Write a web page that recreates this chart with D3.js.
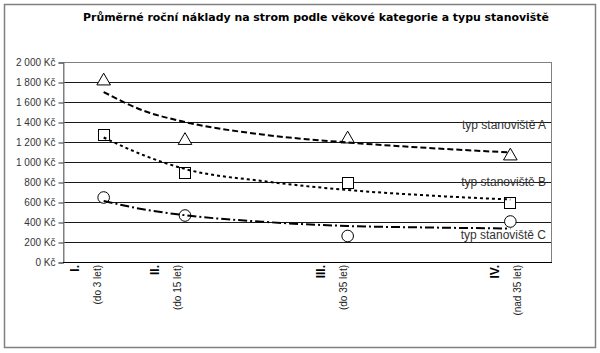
<!DOCTYPE html>
<html lang="cs">
<head>
<meta charset="UTF-8">
<title>Průměrné roční náklady</title>
<script src="https://d3js.org/d3.v7.min.js"></script>
<style>
  body { margin: 0; background: #fff; }
  svg { display: block; }
</style>
</head>
<body>
<svg></svg>
<script>
// category x positions (age groups) and their labels
const catX = [1, 2, 4, 6];
const catRoman = ["I.", "II.", "III.", "IV."];
const catAge = ["(do 3 let)", "(do 15 let)", "(do 35 let)", "(nad 35 let)"];

// measured values (Kč per tree)
const valuesA = [1820, 1225, 1240, 1070];
const valuesB = [1270, 890, 790, 590];
const valuesC = [645, 465, 260, 405];

// trendlines
const trendX = [1, 1.5, 2, 3, 4, 5, 6];
const trendA = [1700, 1510, 1400, 1270, 1195, 1140, 1095];
const trendB = [1245, 1065, 930, 805, 720, 665, 625];
const trendC = [610, 525, 468, 400, 360, 345, 335];

const yTicks = [0, 200, 400, 600, 800, 1000, 1200, 1400, 1600, 1800, 2000];
const seriesNames = ["typ stanoviště A", "typ stanoviště B", "typ stanoviště C"];
const title = "Průměrné roční náklady na strom podle věkové kategorie a typu stanoviště";

const width = 600, height = 353;
const plot = { left: 63, right: 551, top: 62, bottom: 262 };

const svg = d3.select("svg").attr("width", width).attr("height", height);

svg.append("rect").attr("width", width).attr("height", height).attr("fill", "#fff");
// outer chart frame
svg.append("rect")
    .attr("x", 4.5).attr("y", 4.5).attr("width", 591).attr("height", 343)
    .attr("fill", "none").attr("stroke", "#808080").attr("stroke-width", 1.5);

svg.append("text")
    .attr("x", 316).attr("y", 21)
    .attr("text-anchor", "middle")
    .attr("font-family", "DejaVu Sans, Verdana, sans-serif")
    .attr("font-weight", "bold").attr("font-size", 10.5)
    .attr("textLength", 466).attr("lengthAdjust", "spacingAndGlyphs")
    .text(title);

const x = d3.scaleLinear().domain([0.5, 6.5]).range([plot.left, plot.right]);
const y = d3.scaleLinear().domain([0, 2000]).range([plot.bottom, plot.top]);

const locale = d3.formatLocale({ decimal: ",", thousands: " ", grouping: [3], currency: ["", " Kč"] });
const fmt = locale.format("$,");

// gridlines
svg.append("g").selectAll("line")
    .data(yTicks.filter(d => d > 0 && d < 2000))
    .join("line")
    .attr("x1", plot.left).attr("x2", plot.right)
    .attr("y1", d => y(d) + 0.5).attr("y2", d => y(d) + 0.5)
    .attr("stroke", "#1a1a1a").attr("stroke-width", 1);

// plot border (top, right, left gray)
svg.append("rect")
    .attr("x", plot.left + 0.5).attr("y", plot.top + 0.5)
    .attr("width", plot.right - plot.left).attr("height", plot.bottom - plot.top)
    .attr("fill", "none").attr("stroke", "#808080");

// y axis
const yAxis = d3.axisLeft(y).tickValues(yTicks).tickSize(5).tickPadding(3).tickFormat(fmt);
const gy = svg.append("g").attr("transform", `translate(${plot.left + 0.5},0.5)`).call(yAxis);
gy.select(".domain").attr("stroke", "#808080");
gy.selectAll(".tick line").attr("stroke", "#333");
gy.selectAll("text")
    .attr("font-family", "Liberation Sans, Arial, sans-serif")
    .attr("font-size", 10).attr("fill", "#333");

// x axis line
svg.append("line")
    .attr("x1", plot.left).attr("x2", plot.right + 1)
    .attr("y1", plot.bottom + 0.5).attr("y2", plot.bottom + 0.5)
    .attr("stroke", "#000");

// category labels, rotated
const labelDx = [-18, -19, -16, -4];
const lab = svg.append("g").selectAll("g")
    .data(catX)
    .join("g")
    .attr("transform", (d, i) => `translate(${x(d) + labelDx[i]},${plot.bottom + 3}) rotate(-90)`);
lab.append("text")
    .attr("x", 0).attr("y", -7)
    .attr("text-anchor", "end")
    .attr("font-family", "Liberation Sans, Arial, sans-serif")
    .attr("font-weight", "bold").attr("font-size", 12)
    .text((d, i) => catRoman[i]);
lab.append("text")
    .attr("x", 0).attr("y", 15)
    .attr("text-anchor", "end")
    .attr("font-family", "Liberation Sans, Arial, sans-serif")
    .attr("font-size", 10).attr("fill", "#222")
    .text((d, i) => catAge[i]);

// markers
const mk = svg.append("g").attr("fill", "#fff").attr("stroke", "#000").attr("stroke-width", 1);
mk.selectAll("path.a")
    .data(valuesA).join("path").attr("class", "a")
    .attr("d", d3.symbol(d3.symbolTriangle, 80))
    .attr("transform", (d, i) => `translate(${x(catX[i])},${y(d) + 1})`);
mk.selectAll("rect.b")
    .data(valuesB).join("rect").attr("class", "b")
    .attr("x", (d, i) => Math.round(x(catX[i])) - 5.5)
    .attr("y", d => Math.round(y(d)) - 5.5)
    .attr("width", 11).attr("height", 11);
mk.selectAll("circle.c")
    .data(valuesC).join("circle").attr("class", "c")
    .attr("cx", (d, i) => x(catX[i]))
    .attr("cy", d => y(d))
    .attr("r", 5.8);

// trendlines on top of the markers
const line = d3.line().x((d, i) => x(trendX[i])).y(d => y(d)).curve(d3.curveMonotoneX);
const trends = [
    { v: trendA, dash: "6,3" },
    { v: trendB, dash: "3,3" },
    { v: trendC, dash: "9,3,2,3" }
];
svg.append("g").selectAll("path")
    .data(trends).join("path")
    .attr("d", d => line(d.v))
    .attr("fill", "none").attr("stroke", "#000")
    .attr("stroke-width", 2)
    .attr("stroke-dasharray", d => d.dash);

// series labels
const labelY = [1370, 800, 270];
svg.append("g").selectAll("text")
    .data(seriesNames).join("text")
    .attr("x", 546)
    .attr("y", (d, i) => y(labelY[i]) + 4)
    .attr("text-anchor", "end")
    .attr("font-family", "Liberation Sans, Arial, sans-serif")
    .attr("font-size", 12).attr("fill", "#333")
    .text(d => d);
</script>
</body>
</html>
